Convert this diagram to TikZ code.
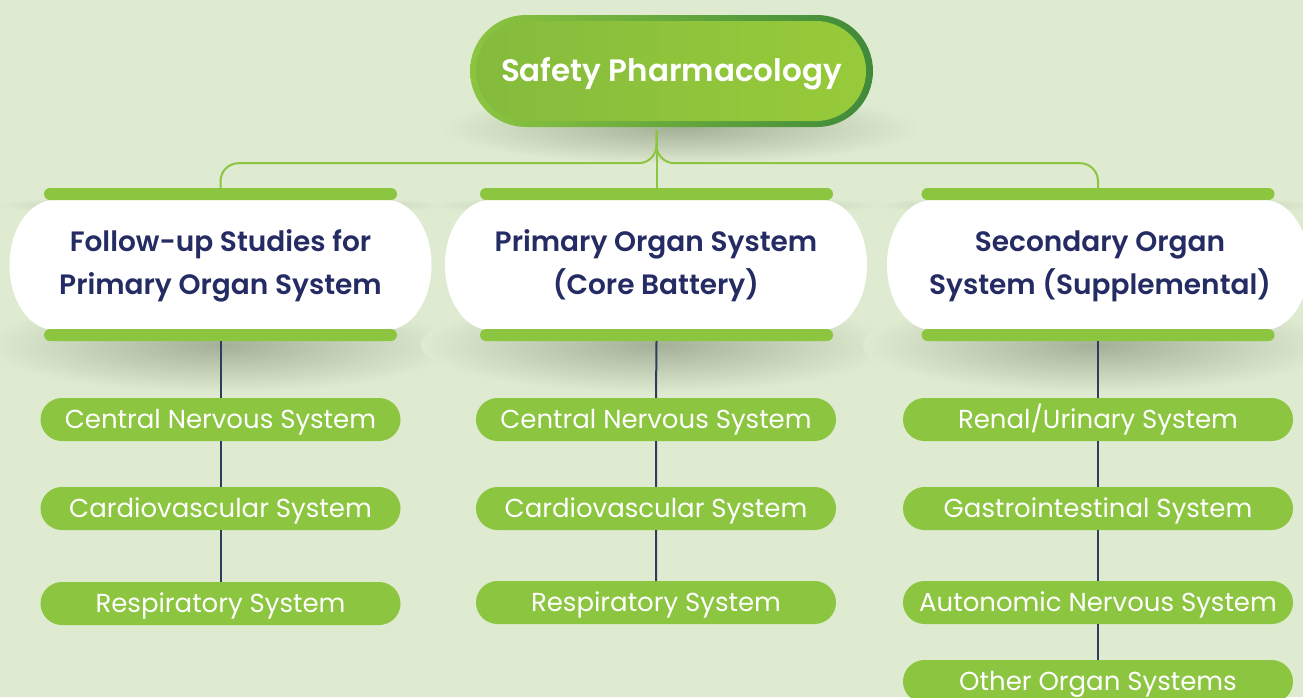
\documentclass[tikz,border=0pt]{standalone}
\usepackage{fontspec}
\setmainfont{Poppins}[BoldFont={Poppins SemiBold}]
\usetikzlibrary{calc}
\definecolor{bg}{HTML}{DFEBD1}
\definecolor{lg}{HTML}{8CC540}
\definecolor{dg}{HTML}{3F8A3A}
\definecolor{navy}{HTML}{252B63}
\definecolor{lnav}{HTML}{2C3E5C}
\definecolor{shd}{HTML}{A4B097}
\tikzset{
  leaf/.style={rectangle, rounded corners=21.5pt, minimum width=360pt, minimum height=43pt,
    fill=lg, text=white, inner sep=0pt, text height=18pt, text depth=0pt, font=\fontsize{26}{30}\selectfont},
  wideleaf/.style={leaf, minimum width=390pt},
  bar/.style={rectangle, rounded corners=6pt, minimum width=353pt, minimum height=12pt, fill=lg, inner sep=0pt},
  head/.style={align=center, text=navy, inner sep=0pt, font=\fontsize{28}{43}\selectfont\bfseries},
  gline/.style={draw=lg, line width=2pt},
  nline/.style={draw=lnav, line width=2pt},
  hpill/.pic={
    \shade[inner color=shd, outer color=bg] (0,80) ellipse[x radius=235pt, y radius=48pt];
    \shade[inner color=shd, outer color=bg] (0,-60) ellipse[x radius=225pt, y radius=10pt];
    \fill[white] (-166,-65) -- (166,-65) arc[start angle=90,end angle=-90,x radius=45pt,y radius=65pt]
      -- (-166,65) arc[start angle=270,end angle=90,x radius=45pt,y radius=65pt] -- cycle;
  }
}
\begin{document}
\begin{tikzpicture}[x=1pt,y=-1pt]
\fill[bg] (0,0) rectangle (1303,697);
\useasboundingbox (0,0) rectangle (1303,697);

% top node
\shade[inner color=shd, outer color=bg] (680,128) ellipse[x radius=240pt, y radius=36pt];
\shade[left color=lg, right color=dg, rounded corners=56pt] (470,15) rectangle (873,127);
\shade[left color=lg!95!black, right color=lg!90!yellow, rounded corners=50pt] (476,21) rectangle (866,121);
\node[minimum width=403pt, minimum height=112pt, inner sep=0pt, text=white,
  font=\fontsize{31}{36}\selectfont\bfseries] (top) at (671.5,74) {Safety Pharmacology};

% header pills
\pic at (220.5,265) {hpill};
\pic at (656,265) {hpill};
\pic at (1098,265) {hpill};

\node[head] (hL) at (220.5,266) {Follow-up Studies for\\Primary Organ System};
\node[head] (hM) at (656,266) {Primary Organ System\\(Core Battery)};
\node[head] (hR) at (1100,266) {Secondary Organ\\System (Supplemental)};

\node[bar] (tL) at (220.5,194) {};
\node[bar] (bL) at (220.5,335) {};
\node[bar] (tM) at (656.5,194) {};
\node[bar] (bM) at (656.5,335) {};
\node[bar] (tR) at (1098,194) {};
\node[bar] (bR) at (1098,335) {};

% green connectors
\coordinate (j) at (top.south -| tM.north);
\draw[gline, rounded corners=18pt] (tL.north) |- ($(j)+(0,33)$) -- (j);
\draw[gline, rounded corners=18pt] (tR.north) |- ($(j)+(0,33)$) -- (j);
\draw[gline] (j) -- (tM.north);

% leaves
\node[leaf] (l1) at (220.5,419.5) {Central Nervous System};
\node[leaf] (l2) at (220.5,508.5) {Cardiovascular System};
\node[leaf] (l3) at (220.5,603.5) {Respiratory System};
\node[leaf] (m1) at (656,419.5) {Central Nervous System};
\node[leaf] (m2) at (656,508.5) {Cardiovascular System};
\node[leaf] (m3) at (656,602.5) {Respiratory System};
\node[wideleaf] (r1) at (1098,419.5) {Renal/Urinary System};
\node[wideleaf] (r2) at (1098,508.5) {Gastrointestinal System};
\node[wideleaf] (r3) at (1098,602.5) {Autonomic Nervous System};
\node[wideleaf] (r4) at (1098,681.5) {Other Organ Systems};

% navy connectors
\draw[nline] (bL.south) -- (l1.north) (l1.south) -- (l2.north) (l2.south) -- (l3.north);
\draw[nline] (bM.south) -- (m1.north) (m1.south) -- (m2.north) (m2.south) -- (m3.north);
\draw[nline] (bR.south) -- (r1.north) (r1.south) -- (r2.north) (r2.south) -- (r3.north) (r3.south) -- (r4.north);
\end{tikzpicture}
\end{document}
